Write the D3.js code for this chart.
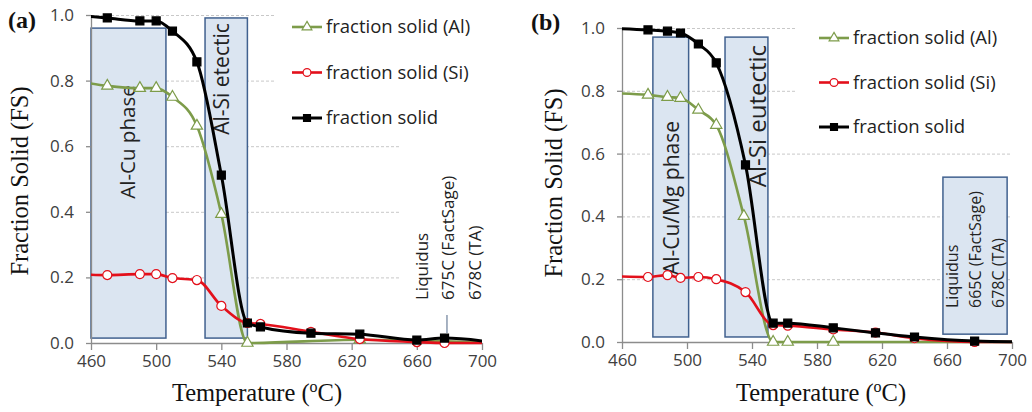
<!DOCTYPE html>
<html>
<head>
<meta charset="utf-8">
<script src="https://cdnjs.cloudflare.com/ajax/libs/d3/7.8.5/d3.min.js"></script>
<style>
body{margin:0;background:#fff;}
svg{display:block;}
.axis text{font-family:"Open Sans",sans-serif;font-size:17px;fill:#404040;}
.axis path,.axis line{stroke:#8c8c8c;stroke-width:1.3;}
.grid line{stroke:#c8c8c8;stroke-dasharray:3,2;}
.grid path{display:none;}
.title{font-family:"Liberation Serif","Times New Roman",serif;font-size:24.5px;fill:#111;}
.plabel{font-family:"Liberation Serif","Times New Roman",serif;font-size:24px;font-weight:bold;fill:#111;}
.legend text{font-family:"Open Sans",sans-serif;font-size:18.5px;fill:#222;}
.box{fill:#dbe5f1;stroke:#41618f;stroke-width:1.5;}
.boxlabel,.liq{font-family:"Open Sans",sans-serif;fill:#222;}
</style>
</head>
<body>
<svg width="1032" height="412"></svg>
<script>
// panel (a) readings
var tempA   = [450,470,490,500,510,525,540,556,564,595,625,660,677,710],
    solidA  = [1.0,0.991,0.982,0.982,0.951,0.857,0.512,0.061,0.049,0.030,0.027,0.009,0.015,0.0],
    siA     = [0.21,0.207,0.21,0.21,0.198,0.192,0.113,0.061,0.058,0.034,0.012,0.003,0.0,0.0],
    tempAlA = [450,470,490,500,510,525,540,556,625,710],
    alA     = [0.80,0.784,0.777,0.777,0.75,0.662,0.393,0.0,0.01,0.0];

// panel (b) readings
var tempB   = [450,476,488,496,507,518,536,553,562,590,616,640,677,710],
    solidB  = [1.0,0.994,0.990,0.984,0.949,0.889,0.564,0.06,0.06,0.045,0.029,0.016,0.003,0.0],
    siB     = [0.21,0.207,0.213,0.204,0.207,0.2,0.159,0.054,0.052,0.04,0.03,0.012,0.0,0.0],
    tempAlB = [450,476,488,496,507,518,535,553,562,590,710],
    alB     = [0.793,0.787,0.780,0.777,0.739,0.691,0.401,0,0,0,0];

var xTicks = [460,500,540,580,620,660,700],
    yTicks = [0,0.2,0.4,0.6,0.8,1.0],
    seriesNames = ["fraction solid (Al)","fraction solid (Si)","fraction solid"];

// shaded regions: [t0, t1, fsTop, fsBottom]
var boxesA = [[460,506,0.96,0.015],[530,556,0.991,0.015]],
    boxesB = [[479,501,0.971,0.016],[523.4,549.8,0.971,0.016],[657.5,697,0.525,0.025]];
var boxLabelsA = ["Al-Cu phase","Al-Si etectic"],
    boxLabelsB = ["Al-Cu/Mg phase","Al-Si eutectic"];
var liqA = ["Liquidus","675C (FactSage)","678C (TA)"],
    liqB = ["Liquidus","665C (FactSage)","678C (TA)"];

var svg = d3.select("svg");

function zip(t,v){ return t.map(function(d,i){ return [d,v[i]]; }); }

function drawPanel(cfg){
  var g = svg.append("g");

  var x = d3.scaleLinear().domain([460,700]).range([cfg.x0,cfg.x1]),
      y = d3.scaleLinear().domain([0,1]).range([cfg.yb,cfg.yt]);

  //Grid
  g.append("g")
    .attr("class","grid")
    .attr("transform","translate("+cfg.x0+",0)")
    .call(d3.axisLeft(y).tickValues(yTicks.slice(1)).tickSize(-(cfg.x1-cfg.x0)).tickFormat(""));

  //white boxes behind legend / notes
  cfg.white.forEach(function(w){
    g.append("rect").attr("x",w[0]).attr("y",w[1]).attr("width",w[2]).attr("height",w[3]).attr("fill","#fff");
  });

  //Shaded regions
  g.selectAll(".box")
    .data(cfg.boxes)
    .enter().append("rect")
      .attr("class","box")
      .attr("x",function(d){ return x(d[0]); })
      .attr("y",function(d){ return y(d[2]); })
      .attr("width",function(d){ return x(d[1])-x(d[0]); })
      .attr("height",function(d){ return y(d[3])-y(d[2]); });

  cfg.boxLabels.forEach(function(b){
    g.append("text")
      .attr("class","boxlabel")
      .attr("transform","translate("+b.x+","+b.y+") rotate(-90)")
      .attr("text-anchor","middle")
      .attr("dy","0.35em")
      .style("font-size",b.size+"px")
      .text(b.text);
  });

  //Liquidus note
  cfg.liq.lines.forEach(function(t,i){
    g.append("text")
      .attr("class","liq")
      .attr("transform","translate("+(cfg.liq.x+i*cfg.liq.gap)+","+cfg.liq.y+") rotate(-90)")
      .attr("dy","0.35em")
      .style("font-size",cfg.liq.size+"px")
      .text(t);
  });
  if (cfg.leader){
    g.append("line")
      .attr("x1",x(cfg.leader[0])).attr("x2",x(cfg.leader[0]))
      .attr("y1",cfg.leader[1]).attr("y2",cfg.leader[2])
      .attr("stroke","#6b7f99").attr("stroke-width",1.2);
  }

  //Axes
  g.append("g")
    .attr("class","axis")
    .attr("transform","translate(0,"+cfg.yb+")")
    .call(d3.axisBottom(x).tickValues(xTicks).tickSize(7).tickSizeOuter(0).tickPadding(5));
  g.append("g")
    .attr("class","axis")
    .attr("transform","translate("+cfg.x0+",0)")
    .call(d3.axisLeft(y).tickValues(yTicks).tickSize(5).tickSizeOuter(0).tickPadding(12).tickFormat(d3.format(".1f")));

  //Lines
  var clipId = "clip"+cfg.id;
  g.append("clipPath").attr("id",clipId)
    .append("rect").attr("x",cfg.x0).attr("y",0).attr("width",cfg.x1-cfg.x0).attr("height",412);

  var line = d3.line()
               .x(function(d){ return x(d[0]); })
               .y(function(d){ return y(d[1]); })
               .curve(d3.curveMonotoneX);

  var series = [
    {data:zip(cfg.tAl,cfg.al), color:"#7d9c4a", width:2.6, sym:d3.symbolTriangle, size:55, fill:"#fff"},
    {data:zip(cfg.t,cfg.si),   color:"#e3101b", width:2.6, sym:d3.symbolCircle,   size:64, fill:"#fff"},
    {data:zip(cfg.t,cfg.solid),color:"#000",    width:3,   sym:d3.symbolSquare,   size:64, fill:"#000"}
  ];

  series.forEach(function(s){
    g.append("path")
      .attr("d",line(s.data))
      .attr("clip-path","url(#"+clipId+")")
      .attr("fill","none")
      .attr("stroke",s.color)
      .attr("stroke-width",s.width);
    g.selectAll(null)
      .data(s.data.filter(function(d){ return d[0]>=460 && d[0]<=700; }))
      .enter().append("path")
        .attr("d",d3.symbol(s.sym,s.size))
        .attr("transform",function(d){ return "translate("+x(d[0])+","+y(d[1])+")"; })
        .attr("fill",s.fill)
        .attr("stroke",s.color)
        .attr("stroke-width",1.2);
  });

  //Legend
  var lg = g.append("g").attr("class","legend");
  series.forEach(function(s,i){
    var ly = cfg.leg.y+i*cfg.leg.gap;
    lg.append("line")
      .attr("x1",cfg.leg.x).attr("x2",cfg.leg.x+30)
      .attr("y1",ly).attr("y2",ly)
      .attr("stroke",s.color).attr("stroke-width",s.width);
    lg.append("path")
      .attr("d",d3.symbol(s.sym,s.size*0.75))
      .attr("transform","translate("+(cfg.leg.x+15)+","+ly+")")
      .attr("fill",s.fill).attr("stroke",s.color).attr("stroke-width",1.2);
    lg.append("text")
      .attr("x",cfg.leg.x+34).attr("y",ly)
      .attr("dy","0.35em")
      .text(seriesNames[i]);
  });

  //Titles
  g.append("text")
    .attr("class","title")
    .attr("transform","translate("+cfg.yTitle[0]+","+cfg.yTitle[1]+") rotate(-90)")
    .attr("text-anchor","middle")
    .attr("dy","0.35em")
    .text("Fraction Solid (FS)");
  var xt = g.append("text")
    .attr("class","title")
    .attr("x",cfg.xTitle[0]).attr("y",cfg.xTitle[1])
    .attr("text-anchor","middle");
  xt.append("tspan").text("Temperature (");
  xt.append("tspan").attr("dy",-9).style("font-size","16px").text("o");
  xt.append("tspan").attr("dy",9).text("C)");

  g.append("text")
    .attr("class","plabel")
    .attr("x",cfg.plabel[0]).attr("y",cfg.plabel[1])
    .text("("+cfg.id+")");
}

drawPanel({
  id:"a", x0:91, x1:482, yt:15, yb:343,
  t:tempA, solid:solidA, si:siA, tAl:tempAlA, al:alA,
  boxes:boxesA,
  boxLabels:[{text:boxLabelsA[0],x:128,y:142,size:20.5},{text:boxLabelsA[1],x:222,y:79,size:21}],
  white:[[274,0,215,134],[399,140,86,172]],
  liq:{lines:liqA,x:422,y:300,gap:26.5,size:17},
  leader:[678.5,315,333],
  leg:{x:292,y:27,gap:45.5},
  yTitle:[19,181], xTitle:[257,401], plabel:[8,28]
});

drawPanel({
  id:"b", x0:622, x1:1012, yt:28, yb:342,
  t:tempB, solid:solidB, si:siB, tAl:tempAlB, al:alB,
  boxes:boxesB,
  boxLabels:[{text:boxLabelsB[0],x:672,y:198,size:21},{text:boxLabelsB[1],x:758,y:116,size:24}],
  white:[[796,0,236,144]],
  liq:{lines:liqB,x:952,y:308,gap:23,size:16},
  leader:null,
  leg:{x:819,y:38,gap:44.5},
  yTitle:[553,183], xTitle:[821,401], plabel:[531,30]
});
</script>
</body>
</html>
